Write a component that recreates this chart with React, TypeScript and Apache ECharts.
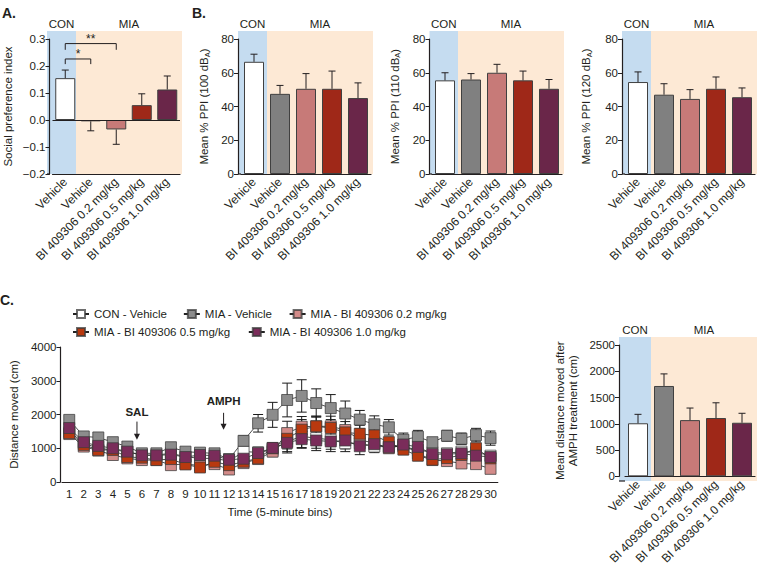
import React, { useEffect, useRef } from "react";
import * as echarts from "echarts";

const FONT = "'Liberation Sans', Arial, Helvetica, sans-serif";
const INK = "#231f20";
const BLUE = "#c5dcf0";
const ORANGE = "#fde9d5";
const FS = 11.5;

// ---------- data ----------
const groupLabels = ["Vehicle", "Vehicle", "BI 409306 0.2 mg/kg", "BI 409306 0.5 mg/kg", "BI 409306 1.0 mg/kg"];
const groupColors = ["#ffffff", "#808080", "#c77a78", "#9f2818", "#6a2649"];

const spiMean = [0.155, -0.005, -0.035, 0.055, 0.113];
const spiSem = [0.03, 0.035, 0.055, 0.042, 0.05];
const sigFrom = [0, 0];
const sigTo = [1, 2];
const sigTop = [0.226, 0.283];
const sigDrop = [0.207, 0.26];
const sigLabels = ["*", "**"];

const ppi100Mean = [66.5, 47.5, 50.5, 50.5, 45];
const ppi100Sem = [4.5, 5, 9, 10.5, 9];
const ppi110Mean = [55.5, 56, 60, 55.5, 50.5];
const ppi110Sem = [4.5, 3.5, 5, 5.5, 5.5];
const ppi120Mean = [54.5, 47, 44.5, 50.5, 45.5];
const ppi120Sem = [6, 6.5, 5.5, 7, 5.5];

const amphMean = [1010, 1720, 1070, 1110, 1020];
const amphSem = [170, 230, 230, 290, 180];

const timeBins = ["1", "2", "3", "4", "5", "6", "7", "8", "9", "10", "11", "12", "13", "14", "15",
  "16", "17", "18", "19", "20", "21", "22", "23", "24", "25", "26", "27", "28", "29", "30"];
const lineNames = ["CON - Vehicle", "MIA - Vehicle", "MIA - BI 409306 0.2 mg/kg", "MIA - BI 409306 0.5 mg/kg", "MIA - BI 409306 1.0 mg/kg"];
const lineColors = ["#ffffff", "#8c8c8c", "#d38b89", "#b9390f", "#7a2c5a"];

const conVehicle = [1500, 1150, 1000, 950, 900, 800, 800, 850, 750, 700, 700, 620, 900, 880, 950, 1200, 1350, 1300, 1250, 1150, 1150, 1050, 1050, 1050, 950, 880, 850, 900, 880, 780];
const conVehicleSem = [80, 60, 60, 60, 50, 50, 50, 60, 50, 50, 50, 50, 150, 150, 120, 300, 350, 300, 280, 250, 200, 180, 150, 150, 120, 100, 100, 100, 100, 100];
const miaVehicle = [1840, 1350, 1320, 1180, 1050, 850, 850, 1030, 900, 870, 850, 680, 1220, 1740, 1990, 2430, 2550, 2340, 2190, 2030, 1850, 1710, 1620, 1250, 1340, 1180, 1370, 1280, 1390, 1300];
const miaVehicleSem = [100, 80, 100, 70, 60, 60, 60, 80, 80, 80, 60, 60, 150, 260, 370, 500, 480, 420, 400, 370, 270, 250, 230, 200, 190, 120, 160, 170, 200, 210];
const mia02 = [1420, 1050, 930, 800, 700, 650, 650, 500, 540, 480, 530, 370, 560, 680, 900, 1450, 1640, 1650, 1650, 1540, 1250, 1150, 1000, 1100, 850, 650, 620, 550, 530, 390];
const mia02Sem = [80, 60, 60, 60, 60, 60, 60, 80, 60, 60, 60, 70, 80, 120, 150, 350, 300, 300, 300, 250, 250, 200, 150, 150, 150, 100, 100, 100, 100, 100];
const mia05 = [1450, 1100, 950, 950, 740, 720, 650, 680, 520, 430, 600, 500, 600, 700, 1000, 1280, 1550, 1650, 1600, 1470, 1430, 1380, 1180, 960, 780, 660, 710, 800, 1000, 700];
const mia05Sem = [80, 60, 60, 60, 60, 60, 60, 60, 60, 60, 60, 60, 80, 120, 150, 300, 300, 300, 250, 200, 250, 200, 150, 150, 150, 100, 100, 100, 100, 100];
const mia10 = [1600, 1180, 1070, 1000, 900, 790, 790, 810, 740, 800, 780, 660, 690, 860, 1010, 1160, 1270, 1230, 1200, 1230, 1060, 1120, 1030, 1110, 1040, 830, 820, 850, 780, 740];
const mia10Sem = [100, 60, 60, 60, 60, 60, 60, 60, 60, 60, 60, 60, 80, 120, 150, 300, 250, 300, 300, 250, 250, 200, 150, 150, 150, 100, 100, 100, 100, 100];

const lineMeans = [conVehicle, miaVehicle, mia02, mia05, mia10];
const lineSems = [conVehicleSem, miaVehicleSem, mia02Sem, mia05Sem, mia10Sem];

const annotations = [
  { label: "SAL", bin: 6.55, textV: 2080, fromV: 1790, toV: 1250 },
  { label: "AMPH", bin: 12.3, textV: 2390, fromV: 2050, toV: 1550 },
];

// ---------- layout ----------
const BAND = 26;
const barPanels = [
  { axisX: 47, gap: 3, top: 39, height: 135, min: -0.2, max: 0.3, interval: 0.1, dec: 1, name: "Social preference index", nameGap: 35, mean: spiMean, sem: spiSem },
  { axisX: 238, gap: 3, top: 39, height: 135, min: 0, max: 80, interval: 20, dec: 0, name: "Mean % PPI (100 dB{s|A})", nameGap: 27, mean: ppi100Mean, sem: ppi100Sem },
  { axisX: 429.5, gap: 2.5, top: 39, height: 135, min: 0, max: 80, interval: 20, dec: 0, name: "Mean % PPI (110 dB{s|A})", nameGap: 28, mean: ppi110Mean, sem: ppi110Sem },
  { axisX: 622, gap: 3, top: 39, height: 135, min: 0, max: 80, interval: 20, dec: 0, name: "Mean % PPI (120 dB{s|A})", nameGap: 29, mean: ppi120Mean, sem: ppi120Sem },
  { axisX: 619, gap: 6, top: 345, height: 136, min: 0, max: 2500, interval: 500, dec: 0, name: "Mean distance moved after\nAMPH treatment (cm)", nameGap: 39, mean: amphMean, sem: amphSem },
];
const LINE = { left: 45.8, top: 347, width: 452, height: 135, max: 4000 };

function fmt(v: number, dec: number) {
  if (Math.abs(v) < 1e-9) return (0).toFixed(dec);
  const s = Math.abs(v).toFixed(dec);
  return v < 0 ? "\u2212" + s : s;
}

function barErr(params: any, api: any) {
  const x = api.value(0), m = api.value(1), e = api.value(2);
  const end = m >= 0 ? m + e : m - e;
  const p0 = api.coord([x, m]);
  const p1 = api.coord([x, end]);
  const hw = 3.5;
  const st = { stroke: INK, lineWidth: 1 };
  return {
    type: "group",
    children: [
      { type: "line", shape: { x1: p0[0], y1: p0[1], x2: p1[0], y2: p1[1] }, style: st },
      { type: "line", shape: { x1: p1[0] - hw, y1: p1[1], x2: p1[0] + hw, y2: p1[1] }, style: st },
    ],
  };
}

function lineErr(params: any, api: any) {
  const x = api.value(0), m = api.value(1), e = api.value(2);
  const t = api.coord([x, m + e]);
  const b = api.coord([x, m - e]);
  const hw = 5;
  const st = { stroke: "#1a1a1a", lineWidth: 1 };
  return {
    type: "group",
    children: [
      { type: "line", shape: { x1: t[0], y1: t[1], x2: b[0], y2: b[1] }, style: st },
      { type: "line", shape: { x1: t[0] - hw, y1: t[1], x2: t[0] + hw, y2: t[1] }, style: st },
      { type: "line", shape: { x1: b[0] - hw, y1: b[1], x2: b[0] + hw, y2: b[1] }, style: st },
    ],
  };
}

function sigItem(params: any, api: any) {
  const a = api.value(0), b = api.value(1), t = api.value(2), d = api.value(3);
  const p1 = api.coord([a, d]), p2 = api.coord([a, t]), p3 = api.coord([b, t]), p4 = api.coord([b, d]);
  return {
    type: "group",
    children: [
      { type: "polyline", shape: { points: [p1, p2, p3, p4] }, style: { stroke: INK, lineWidth: 1, fill: "none" } },
      {
        type: "text", x: (p2[0] + p3[0]) / 2, y: p2[1] + 1,
        style: { text: sigLabels[params.dataIndex], fill: INK, font: `12px ${FONT}`, align: "center", verticalAlign: "bottom" },
      },
    ],
  };
}

function buildOption() {
  const grids: any[] = [];
  const xAxes: any[] = [];
  const yAxes: any[] = [];
  const series: any[] = [];
  const graphics: any[] = [];
  const txt = (size: number, bold = false) => `${bold ? "bold " : ""}${size}px ${FONT}`;

  barPanels.forEach((p, i) => {
    const left = p.axisX + p.gap;
    const width = BAND * 5;
    grids.push({ left, top: p.top, width, height: p.height });
    xAxes.push({
      gridIndex: i, type: "category", data: groupLabels,
      axisLine: { onZero: false, lineStyle: { color: INK, width: 1.2 } },
      axisTick: { alignWithLabel: true, length: 4, lineStyle: { color: INK } },
      axisLabel: { interval: 0, rotate: 45, fontSize: 12, color: INK, fontFamily: FONT, margin: 6 },
    });
    yAxes.push({
      gridIndex: i, type: "value", min: p.min, max: p.max, interval: p.interval, offset: p.gap,
      axisLine: { show: true, lineStyle: { color: INK, width: 1.2 } },
      axisTick: { show: true, length: 4, lineStyle: { color: INK } },
      splitLine: { show: false },
      axisLabel: { fontSize: FS, color: INK, fontFamily: FONT, margin: 4, formatter: (v: number) => fmt(v, p.dec) },
      name: p.name, nameLocation: "middle", nameGap: p.nameGap,
      nameTextStyle: {
        fontSize: FS, color: INK, fontFamily: FONT, lineHeight: 13.5,
        rich: { s: { fontSize: 7.5, color: INK, fontFamily: FONT, verticalAlign: "bottom" } },
      },
    });
    series.push({
      type: "bar", xAxisIndex: i, yAxisIndex: i, barWidth: 20, z: 2,
      data: p.mean.map((v, j) => ({ value: v, itemStyle: { color: groupColors[j] } })),
      itemStyle: { borderColor: "#404040", borderWidth: 1 },
      markLine: p.min < 0 ? {
        silent: true, symbol: "none", label: { show: false },
        lineStyle: { color: INK, type: "solid", width: 1.2 },
        data: [{ yAxis: 0 }],
      } : undefined,
    });
    series.push({
      type: "custom", xAxisIndex: i, yAxisIndex: i, z: 3, renderItem: barErr,
      data: p.mean.map((m, j) => [j, m, p.sem[j]]),
    });
    const blueR = left + BAND;
    const orangeR = Math.min(757, left + width + 2);
    graphics.push({ type: "rect", z: -10, silent: true, shape: { x: p.axisX, y: p.top - 8, width: blueR - p.axisX, height: p.height + 8 }, style: { fill: BLUE } });
    graphics.push({ type: "rect", z: -10, silent: true, shape: { x: blueR, y: p.top - 8, width: orangeR - blueR, height: p.height + 8 }, style: { fill: ORANGE } });
    graphics.push({ type: "line", z: 5, silent: true, shape: { x1: p.axisX, y1: p.top + p.height, x2: left, y2: p.top + p.height }, style: { stroke: INK, lineWidth: 1.2 } });
    graphics.push({ type: "text", x: (p.axisX + blueR) / 2, y: p.top - 15, style: { text: "CON", font: txt(FS), fill: INK, align: "center", verticalAlign: "middle" } });
    graphics.push({ type: "text", x: (blueR + orangeR) / 2, y: p.top - 15, style: { text: "MIA", font: txt(FS), fill: INK, align: "center", verticalAlign: "middle" } });
  });

  series.push({
    type: "custom", xAxisIndex: 0, yAxisIndex: 0, z: 4, renderItem: sigItem,
    data: sigFrom.map((a, k) => [a, sigTo[k], sigTop[k], sigDrop[k]]),
  });

  // line chart (panel C left)
  const li = barPanels.length;
  grids.push({ left: LINE.left, top: LINE.top, width: LINE.width, height: LINE.height });
  xAxes.push({
    gridIndex: li, type: "category", data: timeBins,
    axisLine: { onZero: false, lineStyle: { color: INK, width: 1.2 } },
    axisTick: { alignWithLabel: true, interval: 0, length: 4, lineStyle: { color: INK } },
    axisLabel: { interval: 0, fontSize: FS, color: INK, fontFamily: FONT, margin: 6 },
    name: "Time (5-minute bins)", nameLocation: "middle", nameGap: 24,
    nameTextStyle: { fontSize: FS, color: INK, fontFamily: FONT },
  });
  yAxes.push({
    gridIndex: li, type: "value", min: 0, max: LINE.max, interval: 1000, offset: 1.5,
    axisLine: { show: true, lineStyle: { color: INK, width: 1.2 } },
    axisTick: { show: true, length: 4, lineStyle: { color: INK } },
    splitLine: { show: false },
    axisLabel: { fontSize: FS, color: INK, fontFamily: FONT, margin: 4, formatter: (v: number) => String(v) },
    name: "Distance moved (cm)", nameLocation: "middle", nameGap: 36,
    nameTextStyle: { fontSize: FS, color: INK, fontFamily: FONT },
  });
  lineMeans.forEach((m, g) => {
    series.push({
      type: "custom", name: "err" + g, xAxisIndex: li, yAxisIndex: li, z: 2, renderItem: lineErr,
      data: m.map((v, j) => [j, v, lineSems[g][j]]),
    });
    series.push({
      type: "line", name: lineNames[g], xAxisIndex: li, yAxisIndex: li, z: 2,
      data: m, symbol: "rect", symbolSize: 11,
      itemStyle: { color: lineColors[g], borderColor: "rgba(60,60,60,0.75)", borderWidth: 1 },
      lineStyle: { color: "#222", width: 0.8 },
    });
  });

  const lx = (b: number) => LINE.left + (b - 0.5) * (LINE.width / timeBins.length);
  const ly = (v: number) => LINE.top + (1 - v / LINE.max) * LINE.height;
  annotations.forEach((a) => {
    const x = lx(a.bin);
    const y0 = ly(a.fromV), y1 = ly(a.toV);
    graphics.push({ type: "text", x, y: ly(a.textV), style: { text: a.label, font: txt(FS, true), fill: INK, align: "center", verticalAlign: "middle" } });
    graphics.push({ type: "line", shape: { x1: x, y1: y0, x2: x, y2: y1 - 4 }, style: { stroke: INK, lineWidth: 1 } });
    graphics.push({ type: "polygon", shape: { points: [[x - 3, y1 - 6], [x + 3, y1 - 6], [x, y1]] }, style: { fill: INK } });
  });

  graphics.push({ type: "text", x: 2, y: 13, style: { text: "A.", font: txt(14, true), fill: INK, verticalAlign: "middle" } });
  graphics.push({ type: "text", x: 192, y: 13, style: { text: "B.", font: txt(14, true), fill: INK, verticalAlign: "middle" } });
  graphics.push({ type: "text", x: 0, y: 300, style: { text: "C.", font: txt(14, true), fill: INK, verticalAlign: "middle" } });

  const legendBase = {
    left: 67, itemWidth: 16, itemHeight: 10, selectedMode: false,
    textStyle: { fontSize: FS, color: INK, fontFamily: FONT },
  };

  return {
    animation: false,
    backgroundColor: "#ffffff",
    textStyle: { fontFamily: FONT },
    grid: grids,
    xAxis: xAxes,
    yAxis: yAxes,
    legend: [
      { ...legendBase, top: 303, itemGap: 16, data: lineNames.slice(0, 3) },
      { ...legendBase, top: 321, itemGap: 17, data: lineNames.slice(3) },
    ],
    graphic: graphics,
    series,
  };
}

export default function App() {
  const ref = useRef<HTMLDivElement>(null);
  useEffect(() => {
    document.body.style.margin = "0";
    const chart = echarts.init(ref.current!, null, { renderer: "svg" });
    chart.setOption(buildOption() as any);
    return () => chart.dispose();
  }, []);
  return <div ref={ref} style={{ width: 758, height: 567 }} />;
}
